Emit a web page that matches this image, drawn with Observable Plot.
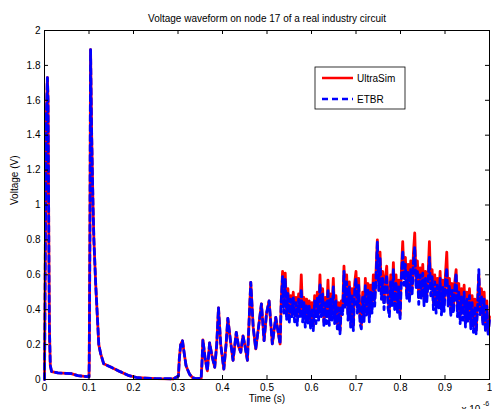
<!DOCTYPE html>
<html><head><meta charset="utf-8">
<script src="https://cdn.jsdelivr.net/npm/d3@7"></script>
<script src="https://cdn.jsdelivr.net/npm/@observablehq/plot@0.6"></script>
<style>body{margin:0;background:#fff;} #chart{width:492px;height:409px;overflow:hidden;}</style>
</head><body><div id="chart"></div>
<script>
const title = "Voltage waveform on node 17 of a real industry circuit";
const xLabel = "Time (s)";
const yLabel = "Voltage (V)";
const seriesNames = ["UltraSim", "ETBR"];
const xTicks = [0,0.1,0.2,0.3,0.4,0.5,0.6,0.7,0.8,0.9,1];
const xTickLabels = ["0","0.1","0.2","0.3","0.4","0.5","0.6","0.7","0.8","0.9","1"];
const yTicks = [0,0.2,0.4,0.6,0.8,1,1.2,1.4,1.6,1.8,2];
const yTickLabels = ["0","0.2","0.4","0.6","0.8","1","1.2","1.4","1.6","1.8","2"];

// shared early part (time in units of 1e-6 s)
const earlyT = [0,0.002,0.004,0.0065,0.008,0.0097,0.011,0.013,0.016,0.03,0.05,0.06,0.075,0.09,0.1,0.1005,0.102,0.1035,0.106,0.109,0.111,0.115,0.118,0.122,0.126,0.133,0.15,0.17,0.19,0.21,0.25,0.29,0.301,0.303,0.306,0.31,0.314,0.318,0.321,0.326,0.333,0.34,0.352,0.354,0.356,0.361,0.366,0.371,0.376,0.3825,0.387,0.391,0.396,0.403,0.408,0.412,0.418,0.4237,0.431,0.436,0.441,0.446,0.45,0.456,0.4635,0.469,0.4747,0.481,0.4875,0.4934,0.499,0.5047,0.512,0.5197,0.5294,0.532];
const earlyV = [0,0.8,1.5,1.73,1.6,0.8,0.3,0.08,0.045,0.038,0.035,0.034,0.022,0.018,0.015,0.1,0.8,1.89,1.4,1.0,0.8,0.55,0.4,0.2,0.15,0.09,0.07,0.045,0.022,0.01,0.005,0.004,0.02,0.12,0.2,0.222,0.15,0.08,0.06,0.03,0.01,0.005,0.006,0.1,0.227,0.12,0.05,0.21,0.14,0.07,0.2,0.41,0.2,0.06,0.2,0.35,0.22,0.11,0.27,0.19,0.156,0.25,0.2,0.11,0.557,0.3,0.175,0.3,0.433,0.223,0.38,0.45,0.204,0.356,0.204,0.45];

// dense noisy part: samples every 0.003 from 0.535
const denseStart = 0.535, denseStep = 0.003;
const ultraDenseV = [
0.62,0.42,0.61,0.38,0.52,0.36,0.48,0.40,0.50,0.37,
0.47,0.36,0.49,0.40,0.60,0.38,0.47,0.35,0.46,0.37,
0.45,0.33,0.44,0.31,0.48,0.36,0.50,0.38,0.60,0.40,
0.52,0.33,0.47,0.36,0.57,0.35,0.49,0.38,0.58,0.36,
0.48,0.32,0.44,0.28,0.45,0.40,0.65,0.45,0.60,0.38,
0.56,0.34,0.52,0.31,0.55,0.62,0.42,0.58,0.36,0.31,
0.50,0.36,0.58,0.40,0.55,0.37,0.54,0.42,0.60,0.46,
0.62,0.80,0.55,0.73,0.50,0.62,0.44,0.58,0.65,0.45,
0.40,0.60,0.46,0.67,0.43,0.60,0.42,0.57,0.37,0.62,
0.79,0.58,0.70,0.50,0.66,0.48,0.68,0.52,0.72,0.84,
0.56,0.68,0.47,0.64,0.50,0.66,0.46,0.62,0.48,0.60,
0.79,0.52,0.63,0.44,0.60,0.42,0.58,0.45,0.62,0.41,
0.57,0.43,0.60,0.73,0.46,0.58,0.40,0.55,0.42,0.56,
0.63,0.40,0.55,0.36,0.52,0.38,0.54,0.34,0.50,0.37,
0.52,0.33,0.48,0.31,0.46,0.28,0.44,0.60,0.40,0.52,
0.34,0.50,0.30,0.45,0.27,0.36];
const etbrDenseV = [
0.59,0.38,0.58,0.34,0.50,0.32,0.46,0.36,0.47,0.33,
0.44,0.31,0.46,0.36,0.52,0.33,0.44,0.30,0.43,0.32,
0.42,0.29,0.41,0.28,0.45,0.32,0.47,0.34,0.55,0.36,
0.49,0.30,0.44,0.32,0.52,0.31,0.46,0.34,0.53,0.32,
0.45,0.29,0.41,0.26,0.42,0.37,0.62,0.41,0.56,0.34,
0.53,0.30,0.49,0.28,0.51,0.58,0.38,0.54,0.32,0.29,
0.47,0.33,0.54,0.36,0.51,0.33,0.50,0.38,0.56,0.42,
0.58,0.79,0.51,0.70,0.46,0.58,0.40,0.54,0.60,0.41,
0.36,0.56,0.42,0.63,0.39,0.56,0.38,0.53,0.34,0.58,
0.74,0.54,0.66,0.46,0.62,0.44,0.63,0.48,0.67,0.76,
0.52,0.63,0.43,0.60,0.46,0.61,0.42,0.58,0.44,0.56,
0.70,0.48,0.59,0.40,0.56,0.38,0.54,0.41,0.58,0.37,
0.53,0.39,0.56,0.64,0.42,0.54,0.36,0.51,0.38,0.52,
0.61,0.36,0.51,0.32,0.48,0.34,0.50,0.30,0.46,0.33,
0.48,0.29,0.44,0.27,0.42,0.26,0.40,0.63,0.36,0.48,
0.31,0.46,0.27,0.42,0.26,0.34];

const denseT = ultraDenseV.map((_, i) => +(denseStart + i * denseStep).toFixed(4));
const early = earlyT.map((t, i) => ({t, v: earlyV[i]}));
const ultra = early.concat(denseT.map((t, i) => ({t, v: ultraDenseV[i]})));
const etbr = early.concat(denseT.map((t, i) => ({t, v: etbrDenseV[i]})));

const lab = (ticks, labels) => d => labels[ticks.findIndex(t => Math.abs(t - d) < 1e-9)];
const innerX = xTicks.slice(1, -1), innerY = yTicks.slice(1, -1);

const chart = Plot.plot({
  width: 492, height: 409,
  marginLeft: 44, marginRight: 3, marginTop: 30, marginBottom: 30,
  style: {fontFamily: "'Liberation Sans', Arial, Helvetica, sans-serif", fontSize: "10px", background: "#fff", color: "#000", overflow: "hidden"},
  x: {domain: [0, 1]},
  y: {domain: [0, 2]},
  marks: [
    Plot.line(ultra, {x: "t", y: "v", stroke: "#ff0000", strokeWidth: 2.8}),
    Plot.line(etbr, {x: "t", y: "v", stroke: "#0000ff", strokeWidth: 2.8, strokeDasharray: "6,4"}),
    Plot.ruleX(innerX, {x: d => d, insetTop: 345, stroke: "#000"}),
    Plot.ruleX(innerX, {x: d => d, insetBottom: 345, stroke: "#000"}),
    Plot.ruleY(innerY, {y: d => d, insetRight: 441, stroke: "#000"}),
    Plot.ruleY(innerY, {y: d => d, insetLeft: 441, stroke: "#000"}),
    Plot.frame({stroke: "#000"}),
    Plot.axisX({ticks: xTicks, anchor: "bottom", tickSize: 0, tickPadding: 4.5, tickFormat: lab(xTicks, xTickLabels), label: null, fill: "#000"}),
    Plot.axisY({ticks: yTicks, anchor: "left", tickSize: 0, tickPadding: 4, tickFormat: lab(yTicks, yTickLabels), label: null, fill: "#000"}),
    Plot.text([title], {frameAnchor: "top", dy: -15.5, fontSize: 10, fill: "#000"}),
    Plot.text([xLabel], {frameAnchor: "bottom", dy: 22, fontSize: 10, fill: "#000"}),
    Plot.text([yLabel], {frameAnchor: "left", dx: -30, rotate: -90, fontSize: 10, fill: "#000"})
  ]
});
document.getElementById("chart").append(chart);

const svg = d3.select(chart);
svg.append("text").attr("x", 461.5).attr("y", 413).attr("text-anchor", "start").attr("font-size", 10).attr("fill", "#000").text("x 10");
svg.append("text").attr("x", 483).attr("y", 405.5).attr("text-anchor", "start").attr("font-size", 7).attr("fill", "#000").text("-6");

const lg = svg.append("g");
lg.append("rect").attr("x", 315).attr("y", 67).attr("width", 90).attr("height", 42).attr("fill", "#fff").attr("stroke", "#000").attr("stroke-width", 0.8);
lg.append("line").attr("x1", 322).attr("x2", 353).attr("y1", 78).attr("y2", 78).attr("stroke", "#ff0000").attr("stroke-width", 2.5);
lg.append("line").attr("x1", 322).attr("x2", 353).attr("y1", 99).attr("y2", 99).attr("stroke", "#0000ff").attr("stroke-width", 2.5).attr("stroke-dasharray", "6,4");
lg.append("text").attr("x", 357).attr("y", 78).attr("dy", "0.35em").attr("text-anchor", "start").attr("font-size", 10).attr("fill", "#000").text(seriesNames[0]);
lg.append("text").attr("x", 357).attr("y", 99).attr("dy", "0.35em").attr("text-anchor", "start").attr("font-size", 10).attr("fill", "#000").text(seriesNames[1]);
</script>
</body></html>
